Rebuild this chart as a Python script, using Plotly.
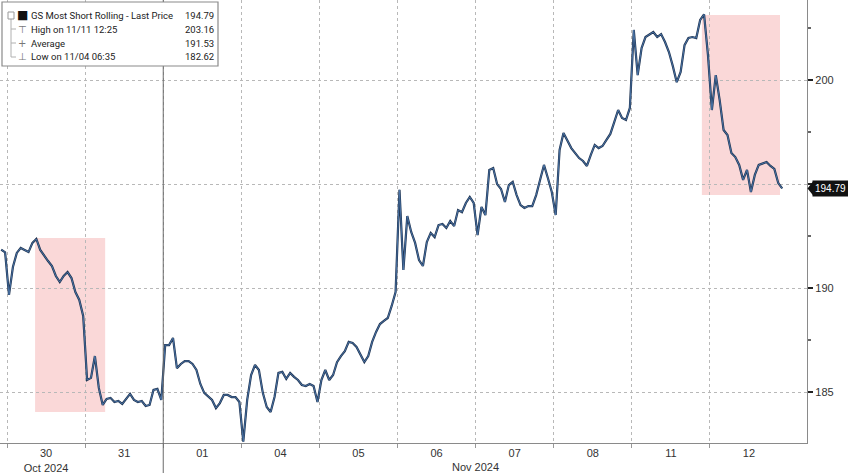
import pandas as pd
import plotly.graph_objects as go

# ---------------- data ----------------
SLOTS = 20  # equally spaced readings per trading day

oct29 = [191.85, 191.72]
oct30 = [189.67, 191.01, 191.69, 191.93, 191.83, 191.73, 192.17, 192.36, 191.83, 191.54,
         191.30, 191.06, 190.58, 190.29, 190.58, 190.77, 190.48, 189.81, 189.43, 188.66]
oct31 = [185.58, 185.68, 186.73, 185.20, 184.38, 184.67, 184.72, 184.52, 184.57, 184.43,
         184.67, 184.91, 184.62, 184.52, 184.57, 184.33, 184.38, 185.10, 185.15, 184.62]
nov01 = [187.26, 187.26, 187.60, 186.15, 186.35, 186.49, 186.49, 186.35, 186.06, 185.39,
         184.96, 184.81, 184.62, 184.23, 184.47, 184.86, 184.86, 184.76, 184.76, 184.52]
nov04 = [182.62, 184.62, 185.82, 186.30, 186.06, 184.96, 184.28, 184.04, 184.76, 185.92,
         185.97, 185.63, 185.92, 185.73, 185.58, 185.34, 185.29, 185.39, 185.29, 184.52]
nov05 = [185.58, 186.06, 185.58, 185.82, 186.44, 186.73, 186.97, 187.41, 187.36, 187.17,
         186.83, 186.44, 186.73, 187.41, 187.89, 188.27, 188.42, 188.56, 189.14, 189.81]
nov06 = [194.72, 190.87, 193.46, 192.70, 192.17, 191.35, 191.06, 192.21, 192.65, 192.45,
         193.03, 193.08, 192.89, 193.22, 192.98, 193.75, 193.65, 194.09, 194.38, 194.09]
nov07 = [192.55, 193.90, 193.51, 195.68, 195.77, 195.00, 194.76, 194.14, 194.95, 195.10,
         194.47, 193.99, 193.85, 193.94, 193.94, 194.47, 195.20, 195.92, 195.29, 194.62]
nov08 = [193.51, 196.64, 197.46, 197.12, 196.73, 196.49, 196.25, 196.11, 195.87, 196.40,
         196.88, 196.73, 196.83, 197.12, 197.41, 197.98, 198.56, 198.18, 198.08, 198.66]
nov11 = [202.41, 200.24, 201.54, 202.07, 202.21, 202.31, 202.07, 202.21, 201.83, 201.35,
         200.67, 199.90, 200.39, 201.68, 202.02, 202.07, 202.02, 202.89, 203.16, 201.20]
nov12 = [198.56, 200.24, 199.04, 197.60, 197.36, 196.49, 196.30, 195.92, 195.20, 195.68,
         194.62, 195.44, 195.92, 196.01, 196.06, 195.87, 195.73, 195.05, 194.79]

sessions = [
    ("2024-10-29", 18, oct29), ("2024-10-30", 0, oct30), ("2024-10-31", 0, oct31),
    ("2024-11-01", 0, nov01), ("2024-11-04", 0, nov04), ("2024-11-05", 0, nov05),
    ("2024-11-06", 0, nov06), ("2024-11-07", 0, nov07), ("2024-11-08", 0, nov08),
    ("2024-11-11", 0, nov11), ("2024-11-12", 0, nov12),
]

label_days = ["2024-10-30", "2024-10-31", "2024-11-01", "2024-11-04", "2024-11-05",
              "2024-11-06", "2024-11-07", "2024-11-08", "2024-11-11", "2024-11-12"]
label_text = ["30<br>Oct 2024", "31", "01", "04", "05", "06", "07", "08", "11", "12"]

y_major = [185, 190, 195, 200]
y_major_text = ["185", "190", "", "200"]
y_minor = [182.5, 187.5, 192.5, 197.5, 202.5]

last_price = 194.79
legend_rows = [("■", "GS Most Short Rolling - Last Price", "194.79"),
               ("⊤", "High on 11/11 12:25", "203.16"),
               ("+", "Average", "191.53"),
               ("⊥", "Low on 11/04 06:35", "182.62")]

# highlighted periods: (start, end, low, high)
boxes = [("2024-10-30 08:37", "2024-10-31 06:09", 184.04, 192.41),
         ("2024-11-11 21:32", "2024-11-12 21:32", 194.47, 203.13)]

# ---------------- build ----------------
times, vals = [], []
for day, start, v in sessions:
    for i, val in enumerate(v):
        times.append(pd.Timestamp(day) + pd.Timedelta(hours=24 * (start + i + 0.5) / SLOTS))
        vals.append(val)

FONT = "Liberation Sans, Arial, sans-serif"
LFONT = "Roboto, Liberation Sans, sans-serif"
W_PLOT, H_PLOT = 807, 443

def px(x):
    return x / W_PLOT

def py(y):
    return 1 - y / H_PLOT

fig = go.Figure()
fig.add_trace(go.Scatter(x=times, y=vals, mode="lines",
                         line=dict(color="#1f3350", width=2.2), hoverinfo="skip"))
fig.add_trace(go.Scatter(x=times, y=vals, mode="lines",
                         line=dict(color="#4d78ad", width=0.9)))

shapes = []
for x0, x1, y0, y1 in boxes:
    shapes.append(dict(type="rect", xref="x", yref="y", x0=x0, x1=x1, y0=y0, y1=y1,
                       fillcolor="rgba(238,125,125,0.30)", line=dict(width=0),
                       layer="below"))
# month separator
shapes.append(dict(type="line", xref="x", yref="paper", x0="2024-11-01", x1="2024-11-01",
                   y0=-0.07, y1=1, line=dict(color="#6a6a6a", width=1)))
# legend box
shapes.append(dict(type="rect", xref="paper", yref="paper", x0=px(2), x1=px(218),
                   y0=py(66), y1=py(2), fillcolor="white",
                   line=dict(color="#8a8a8a", width=1.2), layer="above"))
shapes.append(dict(type="line", xref="paper", yref="paper", x0=px(11), x1=px(11),
                   y0=py(57), y1=py(19), line=dict(color="#b0b0b0", width=1), layer="above"))
shapes.append(dict(type="rect", xref="paper", yref="paper", x0=px(8), x1=px(14),
                   y0=py(19), y1=py(12), line=dict(color="#999", width=1),
                   fillcolor="white", layer="above"))
for ry in (29, 43, 57):
    shapes.append(dict(type="line", xref="paper", yref="paper", x0=px(11), x1=px(16),
                       y0=py(ry), y1=py(ry), line=dict(color="#b0b0b0", width=1),
                       layer="above"))
# price tag pointer
shapes.append(dict(type="path", xref="paper", yref="y",
                   path=f"M {px(807.5)},{last_price} L {px(813)},{last_price + 0.33} "
                        f"L {px(813)},{last_price - 0.33} Z",
                   fillcolor="#111", line=dict(width=0)))

annotations = []
for k, (sym, label, value) in enumerate(legend_rows):
    yy = py(15 + 14 * k)
    annotations.append(dict(xref="paper", yref="paper", x=px(22), y=yy, text=sym,
                            showarrow=False, xanchor="center", yanchor="middle",
                            font=dict(family="DejaVu Sans", size=10 if k else 12,
                                      color="#111" if k == 0 else "#777")))
    annotations.append(dict(xref="paper", yref="paper", x=px(29), y=yy, text=label,
                            showarrow=False, xanchor="left", yanchor="middle",
                            font=dict(family=LFONT, size=9.5, color="#222")))
    annotations.append(dict(xref="paper", yref="paper", x=px(216), y=yy, text=value,
                            showarrow=False, xanchor="right", yanchor="middle",
                            font=dict(family=LFONT, size=9.5, color="#222")))
annotations.append(dict(xref="x", yref="paper", x="2024-11-07", y=py(467), text="Nov 2024",
                        showarrow=False, xanchor="center", yanchor="middle",
                        font=dict(family=FONT, size=11, color="#333")))
annotations.append(dict(xref="paper", yref="y", x=1, xshift=5, y=last_price,
                        text=f"{last_price:.2f}", showarrow=False, xanchor="left",
                        yanchor="middle", bgcolor="#111", borderpad=2,
                        font=dict(family=FONT, size=10, color="white")))

fig.update_layout(
    width=848, height=473,
    margin=dict(l=0, r=41, t=0, b=30),
    paper_bgcolor="white", plot_bgcolor="white",
    showlegend=False, hovermode=False,
    shapes=shapes, annotations=annotations,
    xaxis=dict(
        type="date",
        range=["2024-10-29 21:50", "2024-11-13 05:50"],
        rangebreaks=[dict(bounds=["sat", "mon"])],
        tickmode="array",
        tickvals=[pd.Timestamp(d) + pd.Timedelta(hours=12) for d in label_days],
        ticktext=label_text,
        ticks="", showgrid=False, zeroline=False,
        showline=True, linecolor="#8a8a8a", linewidth=1.2,
        tickfont=dict(family=FONT, size=11, color="#333"),
        automargin=False,
        minor=dict(tickmode="array", tickvals=label_days, ticks="outside",
                   ticklen=4, tickcolor="#999", showgrid=True, griddash="dot",
                   gridcolor="#b8b8b8", gridwidth=1),
    ),
    yaxis=dict(
        side="right",
        range=[182.55, 203.85],
        tickmode="array", tickvals=y_major, ticktext=y_major_text,
        ticks="outside", ticklen=5, tickwidth=2, tickcolor="#222",
        showgrid=True, gridcolor="#b8b8b8", griddash="dot", gridwidth=1,
        zeroline=False, showline=True, linecolor="#8a8a8a", linewidth=1.2,
        tickfont=dict(family=FONT, size=11, color="#333"),
        automargin=False,
        minor=dict(tickmode="array", tickvals=y_minor, ticks="outside", ticklen=3,
                   tickcolor="#666", showgrid=False),
    ),
)

fig.write_html("out.html", config={"displayModeBar": False},
               post_script="document.body.style.margin='0';document.body.style.overflow='hidden';")
